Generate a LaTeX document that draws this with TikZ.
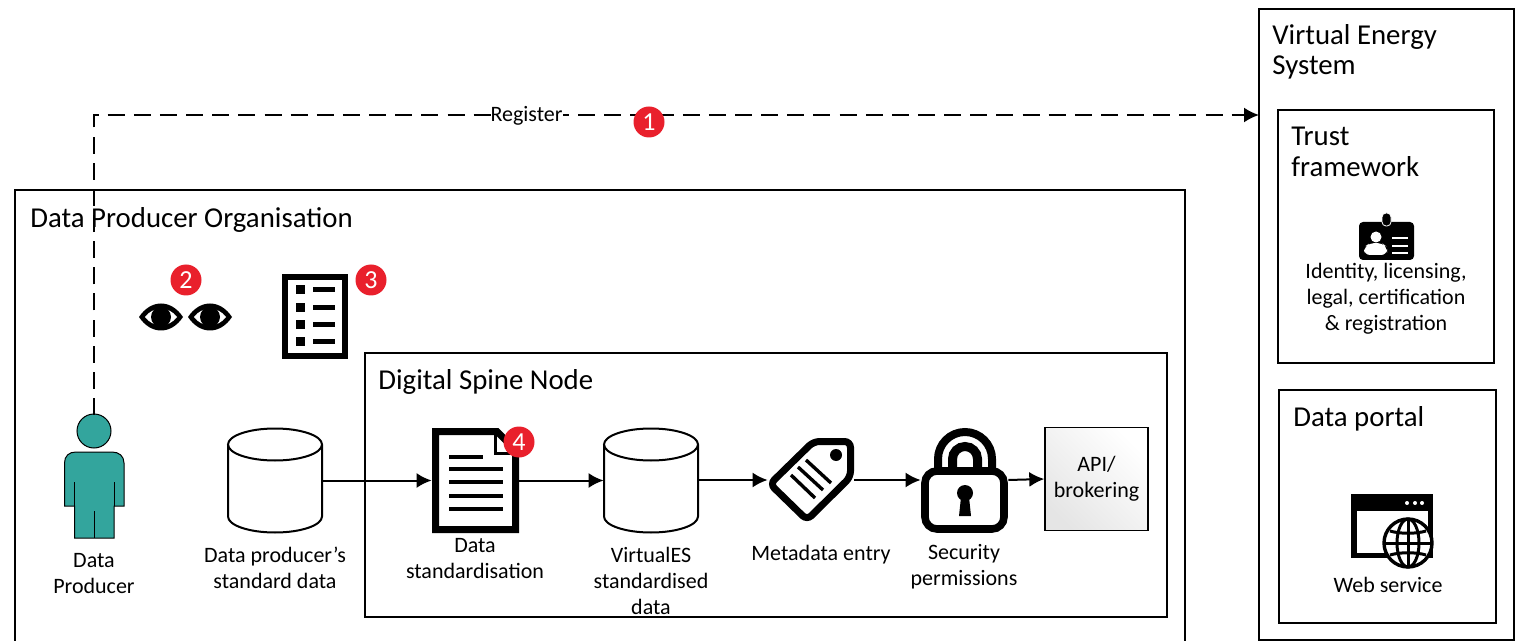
\documentclass[tikz,border=0pt]{standalone}
\usepackage{fontspec}
\setmainfont{Carlito}
\usetikzlibrary{arrows.meta}
\definecolor{badgered}{HTML}{E9202C}
\definecolor{personteal}{HTML}{33A59D}

\begin{document}
\begin{tikzpicture}[x=0.5pt, y=-0.5pt]
\tikzset{boxframe/.style={draw, line width=0.7pt, inner sep=0pt},
  heading/.style={anchor=west, align=left, inner sep=0pt, font=\fontsize{14.4}{15.3}\selectfont},
  caption/.style={align=center, inner sep=0pt, font=\fontsize{11}{13}\selectfont},
  badge/.style={circle, fill=badgered, text=white, minimum size=15.5pt, inner sep=0pt, font=\fontsize{13}{13}\selectfont},
  iconspot/.style={inner sep=0pt},
  flow/.style={line width=1pt, -{Latex[length=7.5pt, width=7.5pt]}},
  eyeicon/.pic={
    \fill (-22,0) .. controls (-10,-18) and (10,-18) .. (22,0) .. controls (10,18) and (-10,18) .. (-22,0) -- cycle;
    \fill[white] (-16,0) .. controls (-8,-11) and (8,-11) .. (16,0) .. controls (8,11) and (-8,11) .. (-16,0) -- cycle;
    \fill (0,0) circle (10);
  },
  storeicon/.pic={
    \draw[line width=1pt] (0,-36) ellipse (47 and 16);
    \draw[line width=1pt] (-47,-36) -- (-47,36) arc (180:0:47 and 16) -- (47,-36);
  }}
\useasboundingbox (0,0) rectangle (1519,641);
\clip (0,0) rectangle (1519,641);

% frames
\node[boxframe, minimum width=585pt, minimum height=240pt] (org) at (600,430) {};
\node[boxframe, minimum width=401pt, minimum height=132pt] (spine) at (766,485) {};
\node[boxframe, minimum width=127.5pt, minimum height=315.5pt] (ves) at (1386.5,324.5) {};
\node[boxframe, minimum width=108pt, minimum height=126.5pt] (trust) at (1386,236.5) {};
\node[boxframe, minimum width=108.5pt, minimum height=116.5pt] (portal) at (1387.5,506.5) {};
\node[boxframe, minimum width=51.5pt, minimum height=51.5pt, top color=black!10, bottom color=white, shading angle=135, align=center, font=\fontsize{11}{13}\selectfont] (api) at (1096.5,479) {API/\\brokering};

\node[heading] (orgtitle) at (30,219.5) {Data Producer Organisation};
\node[heading] (spinetitle) at (378,382) {Digital Spine Node};
\node[heading] (vestitle) at (1272,52) {Virtual Energy\\System};
\node[heading] (trusttitle) at (1291,152) {Trust\\framework};
\node[heading] (portaltitle) at (1293,418.5) {Data portal};

% person
\node[circle, draw, line width=0.5pt, fill=personteal, minimum size=17pt, inner sep=0pt] (head) at (94,431) {};
\coordinate (headtop) at (94,415);
\draw[line width=0.5pt, fill=personteal] (74.5,538) -- (74.5,506) -- (64.5,506) -- (64.5,463) .. controls (64.5,456) and (69,452) .. (76,452) -- (112,452) .. controls (119,452) and (124,456) .. (124,463) -- (124,506) -- (114,506) -- (114,538) -- cycle;
\draw[line width=0.5pt] (74.5,482) -- (74.5,506);
\draw[line width=0.5pt] (114,482) -- (114,506);
\draw[line width=0.5pt] (94,511) -- (94,538);
\node[caption] (personlabel) at (94,573.5) {Data\\Producer};

% eyes and checklist
\pic at (161,317) {eyeicon};
\pic at (210,317) {eyeicon};
\draw[line width=3pt] (285,277) rectangle (345,356);
\fill (296,285.5) rectangle (305,294.5);
\fill (296,303.5) rectangle (305,312.5);
\fill (296,320.5) rectangle (305,329.5);
\fill (296,337.5) rectangle (305,346.5);
\draw[line width=2.5pt] (313,290) -- (335,290);
\draw[line width=2.5pt] (313,308) -- (335,308);
\draw[line width=2.5pt] (313,325) -- (335,325);
\draw[line width=2.5pt] (313,342) -- (335,342);

% stores
\node[iconspot, minimum width=47pt, minimum height=52.5pt] (producerdata) at (275,480.5) {};
\pic at (275,480.5) {storeicon};
\node[caption] (producerlabel) at (275,568) {Data producer’s\\standard data};
\node[iconspot, minimum width=47pt, minimum height=52.5pt] (virtualdata) at (651,480.5) {};
\pic at (651,480.5) {storeicon};
\node[caption] (virtuallabel) at (651,581) {VirtualES\\standardised\\data};

% document
\node[iconspot, minimum width=43.5pt, minimum height=52.5pt] (doc) at (475.5,480.5) {};
\draw[line width=3.5pt] (435.5,431.5) -- (497,431.5) -- (515.5,450) -- (515.5,529.5) -- (435.5,529.5) -- cycle;
\draw[line width=1.5pt] (495,432) -- (495,453) -- (515,453);
\draw[line width=2.2pt] (449,457) -- (483,457);
\draw[line width=2.2pt] (449,469) -- (503,469);
\draw[line width=2.2pt] (449,482) -- (503,482);
\draw[line width=2.2pt] (449,496) -- (503,496);
\draw[line width=2.2pt] (449,509) -- (503,509);
\node[caption] (doclabel) at (475,558.5) {Data\\standardisation};

% tag
\node[iconspot, minimum width=43pt, minimum height=42pt] (tag) at (811,480) {};
\draw[line width=3.5pt, rounded corners=3pt] (813.5,441.5) -- (850.5,441.5) -- (850.5,477) -- (807,520) -- (770,484) -- cycle;
\fill (836,455) circle (6);
\draw[line width=1.7pt] (791,475) -- (815,498);
\draw[line width=1.7pt] (798,467) -- (823,490);
\draw[line width=1.7pt] (806,460) -- (831,483);
\node[caption] (taglabel) at (821,554.5) {Metadata entry};

% lock
\node[iconspot, minimum width=43.5pt, minimum height=33pt] (lock) at (964.5,480) {};
\draw[line width=4pt] (938,470) -- (938,459) arc (180:360:27) -- (992,470);
\draw[line width=4.5pt] (952.5,470) -- (952.5,459) arc (180:360:12.5) -- (977.5,470);
\draw[line width=3.8pt, fill=white, rounded corners=6pt] (925,471) rectangle (1004,529);
\fill (965,493) circle (8);
\fill (961,497) -- (969,497) -- (971,516) -- (959,516) -- cycle;
\node[caption] (locklabel) at (964,566.5) {Security\\permissions};

% badge icon
\fill[rounded corners=2pt] (1359,222) rectangle (1414,260);
\filldraw[draw=white, line width=0.4pt, rounded corners=2pt] (1382,213) rectangle (1391,226);
\fill[white] (1376,237) circle (5.5);
\fill[white, rounded corners=3pt] (1364,255) -- (1364,247) -- (1370,243) -- (1382,243) -- (1387,247) -- (1387,255) -- cycle;
\draw[white, line width=1pt] (1392,238) -- (1408,238);
\draw[white, line width=1pt] (1392,246) -- (1408,246);
\draw[white, line width=1pt] (1392,253) -- (1408,253);
\node[caption] (trustlabel) at (1386,298.5) {Identity, licensing,\\legal, certification\\\& registration};

% web icon
\fill (1351,494) rectangle (1433,558);
\fill[white] (1357,511) rectangle (1428,553);
\fill[white] (1407,503) circle (2);
\fill[white] (1415,503) circle (2);
\fill[white] (1422,503) circle (2);
\draw[line width=1.7pt, fill=white] (1408,543) circle (24);
\draw[line width=1.5pt] (1408,543) ellipse (11 and 24);
\draw[line width=1.5pt] (1408,519) -- (1408,567);
\draw[line width=1.5pt] (1384,543) -- (1432,543);
\draw[line width=1.5pt] (1390,531) .. controls (1400,534) and (1416,534) .. (1426,531);
\draw[line width=1.5pt] (1390,555) .. controls (1400,552) and (1416,552) .. (1426,555);
\node[caption] (weblabel) at (1388,584.5) {Web service};

% connectors
\coordinate (vesin) at (1259,115);
\draw[line width=1pt, dash pattern=on 8.5pt off 4.57pt, -{Latex[length=7.5pt, width=7.5pt]}] (headtop) |- (vesin);
\draw[flow] (producerdata.east |- doc.west) -- (doc.west);
\draw[flow] (doc.east) -- (virtualdata.west |- doc.east);
\draw[flow] (virtualdata.east |- tag.west) -- (tag.west);
\draw[flow] (tag.east) -- (lock.west);
\draw[flow] (lock.east) -- (api.west);
\node[caption, fill=white, inner xsep=0pt, inner ysep=1pt] (register) at (526.5,115.5) {Register};

% badges
\node[badge] (one) at (649,122) {1};
\node[badge] (two) at (186,280) {2};
\node[badge] (three) at (371,280) {3};
\node[badge] (four) at (519,442) {4};
\end{tikzpicture}
\end{document}
